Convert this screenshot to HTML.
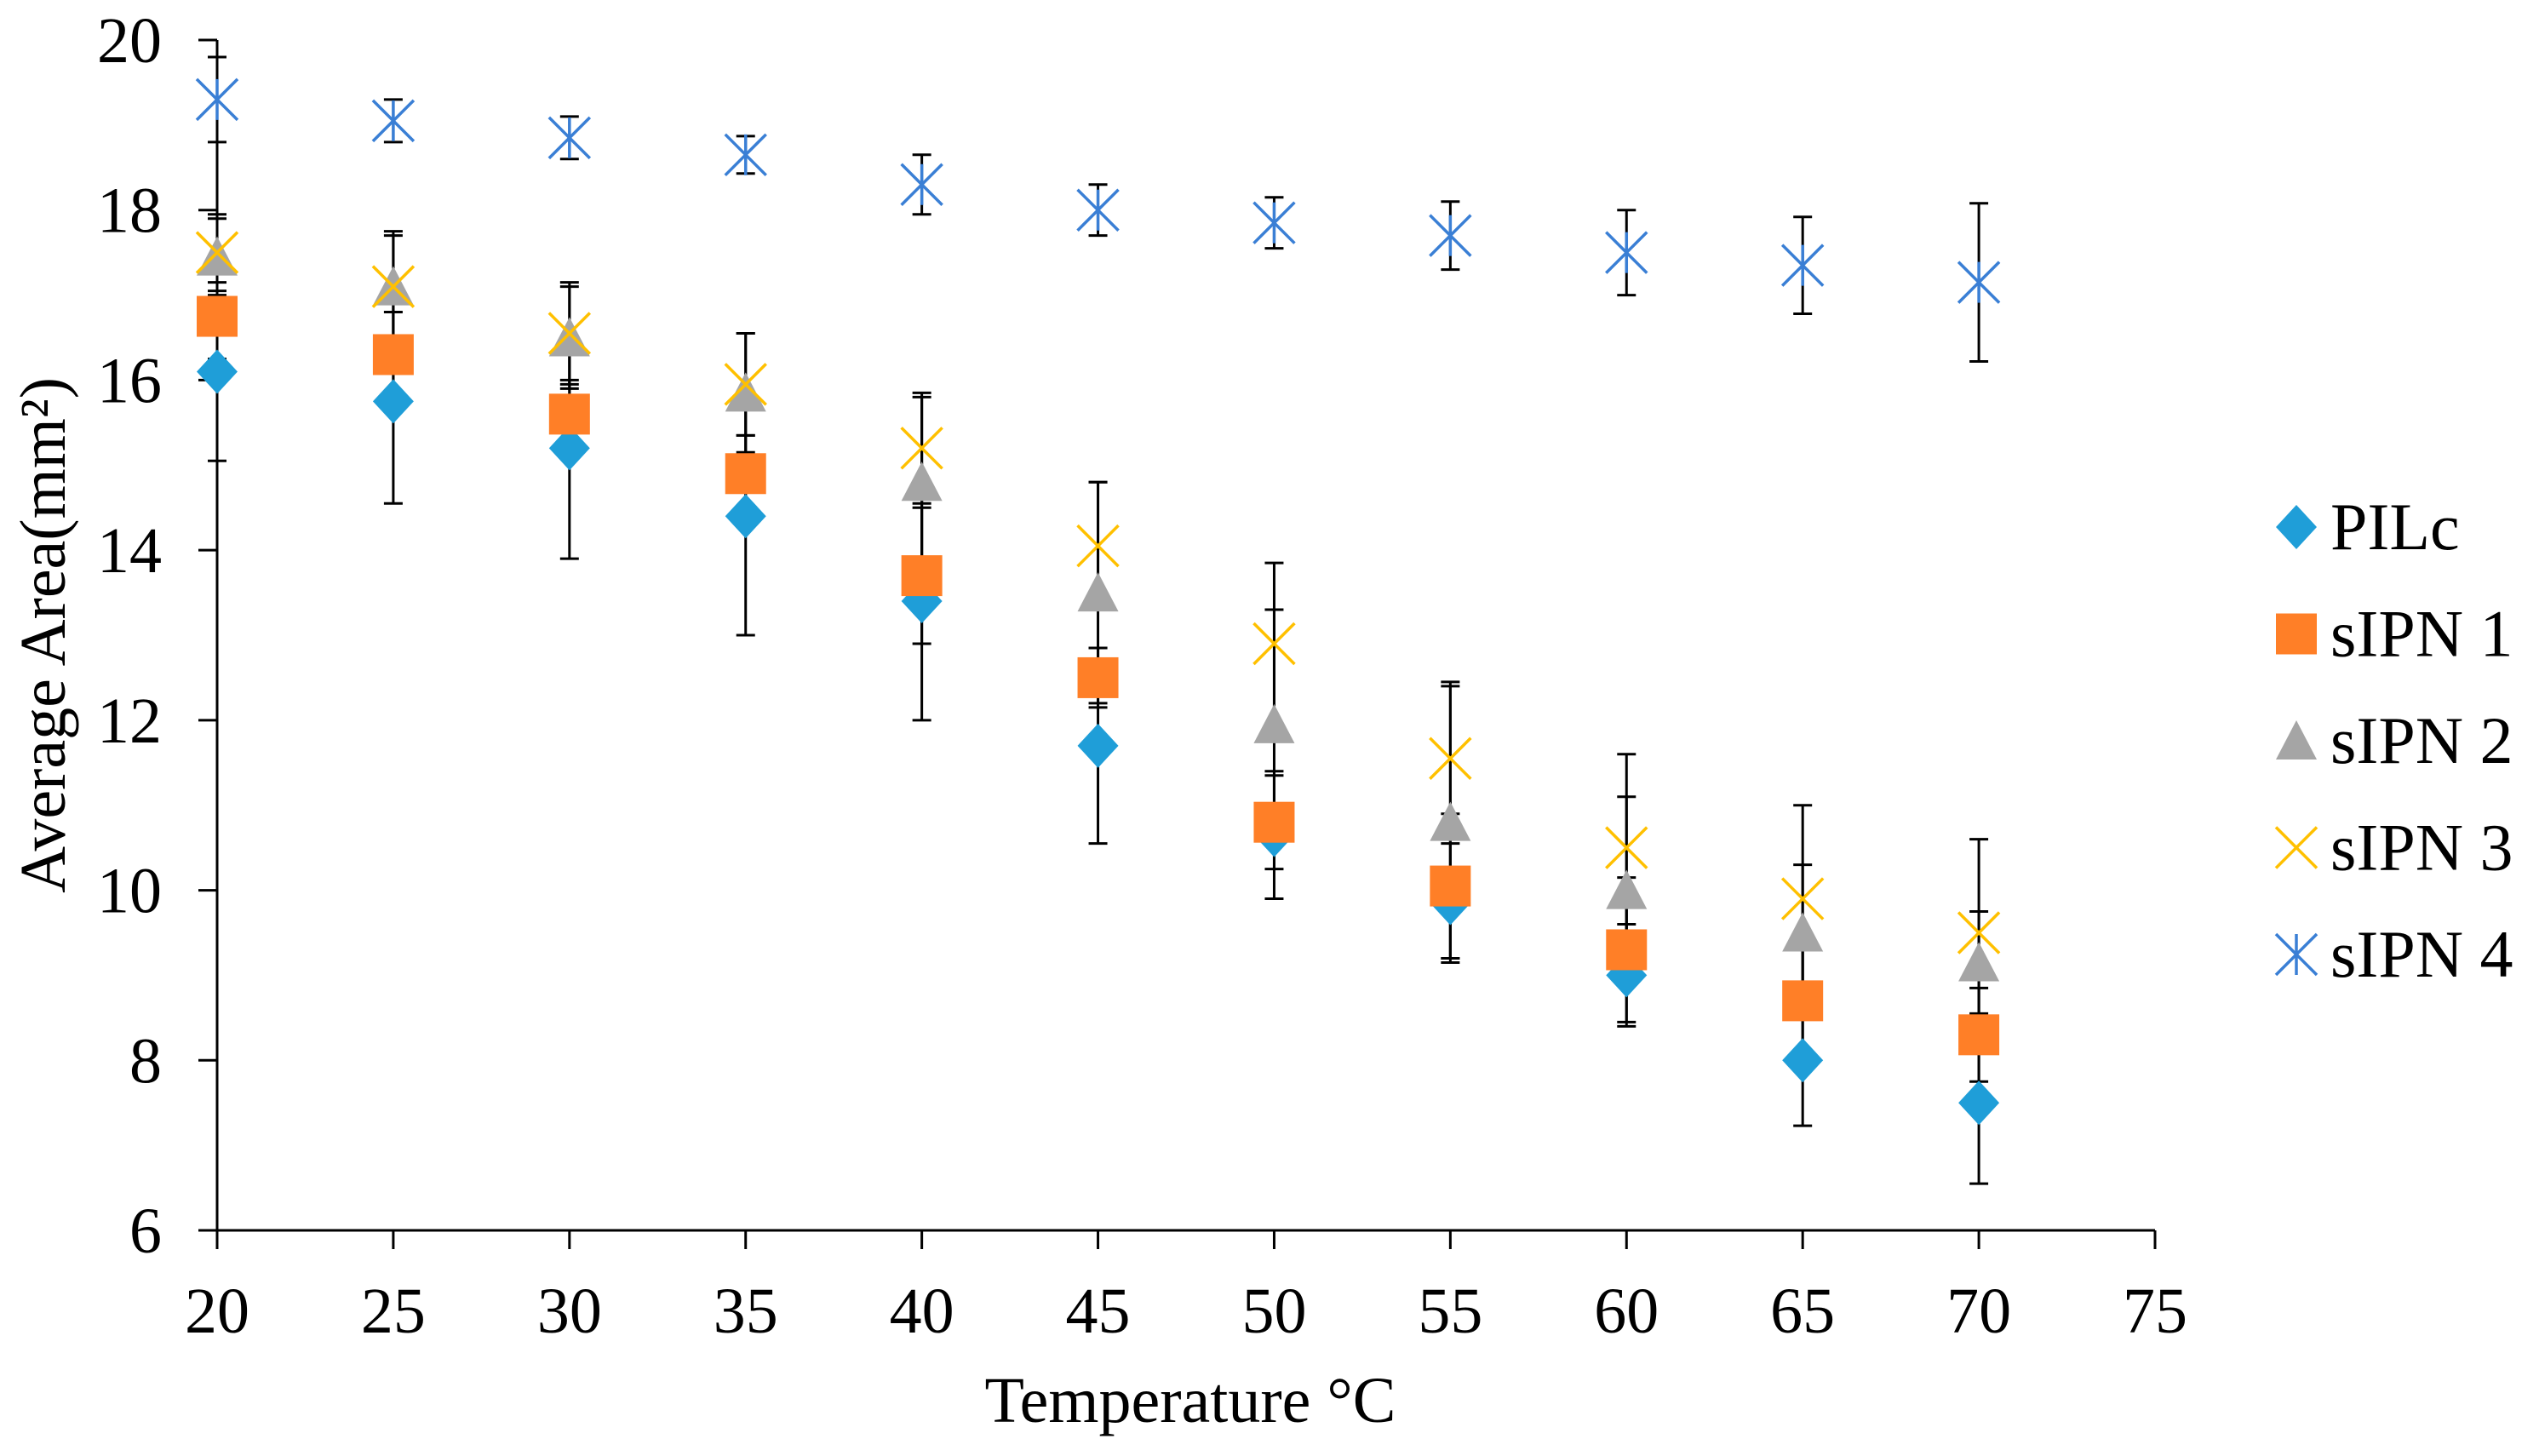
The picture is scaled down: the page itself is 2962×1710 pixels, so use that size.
<!DOCTYPE html>
<html><head><meta charset="utf-8"><style>
html,body{margin:0;padding:0;background:#fff;}
svg{display:block;font-family:"Liberation Serif",serif;}
</style></head><body>
<svg id="chart" width="2962" height="1710" viewBox="0 0 2962 1710" xmlns="http://www.w3.org/2000/svg">
<g id="axes"></g>
<g id="marks"></g>
<g id="legend"></g>
<text x="1398" y="1670" font-size="76" text-anchor="middle">Temperature °C</text>
<text x="0" y="0" font-size="76" text-anchor="middle" transform="translate(76,746) rotate(-90)">Average Area(mm²)</text>
</svg>
<script>
const temps = [20,25,30,35,40,45,50,55,60,65,70];
const xTicks = [20,25,30,35,40,45,50,55,60,65,70,75];
const yTicks = [6,8,10,12,14,16,18,20];
const seriesNames = ["PILc","sIPN 1","sIPN 2","sIPN 3","sIPN 4"];
const pilc = [16.1,15.75,15.2,14.4,13.4,11.7,10.65,9.85,9.0,8.0,7.5];
const pilcErr = [1.05,1.2,1.3,1.4,1.4,1.15,0.75,0.7,0.6,0.77,0.95];
const sipn1 = [16.75,16.3,15.6,14.9,13.7,12.5,10.8,10.05,9.3,8.7,8.3];
const sipn1Err = [0.5,0.5,0.4,0.45,0.8,0.35,0.55,0.85,0.85,0.6,0.55];
const sipn2 = [17.45,17.1,16.5,15.85,14.8,13.5,11.95,10.8,10.0,9.5,9.15];
const sipn2Err = [0.45,0.6,0.6,0.7,1.0,1.3,1.35,1.6,1.1,0.8,0.6];
const sipn3 = [17.5,17.1,16.55,15.95,15.2,14.05,12.9,11.55,10.5,9.9,9.5];
const sipn3Err = [0.45,0.65,0.6,0.6,0.65,0.75,0.95,0.9,1.1,1.1,1.1];
const sipn4 = [19.3,19.05,18.85,18.65,18.3,18.0,17.85,17.7,17.5,17.35,17.15];
const sipn4Err = [0.5,0.25,0.25,0.22,0.35,0.3,0.3,0.4,0.5,0.57,0.93];

const NS="http://www.w3.org/2000/svg";
const X0=255,X1=2531,Y0=1445,Y1=47;
function xs(v){return X0+(v-20)/(75-20)*(X1-X0);}
function ys(v){return Y0-(v-6)/(20-6)*(Y0-Y1);}
function mk(tag,attrs,parent){const e=document.createElementNS(NS,tag);for(const k in attrs)e.setAttribute(k,attrs[k]);parent.appendChild(e);return e;}
const axes=document.getElementById('axes'),marks=document.getElementById('marks'),legend=document.getElementById('legend');

let ax=mk('line',{x1:X0,y1:Y0,x2:X1,y2:Y0,stroke:'#000','stroke-width':3},axes);


let ay=mk('line',{x1:X0,y1:Y0,x2:X0,y2:Y1,stroke:'#000','stroke-width':3},axes);


xTicks.forEach(t=>{
  const x=xs(t);
  const l=mk('line',{x1:x,y1:Y0,x2:x,y2:Y0+22,stroke:'#000','stroke-width':3},axes);
  
  
  const tx=mk('text',{x:x,y:1565,'font-size':76,'text-anchor':'middle'},axes);
  tx.textContent=t;
  
  
});
yTicks.forEach(t=>{
  const y=ys(t);
  const l=mk('line',{x1:X0-22,y1:y,x2:X0,y2:y,stroke:'#000','stroke-width':3},axes);
  
  
  const tx=mk('text',{x:190,y:y+26,'font-size':76,'text-anchor':'end'},axes);
  tx.textContent=t;
  
  
});

const colors=['#1F9ED8','#FF7F27','#A5A5A5','#FFC000','#3A7FD5'];
const shapes=['diamond','square','triangle','x','star'];
function marker(g,shape,cx,cy,col){
  const s=24;
  if(shape==='diamond') mk('polygon',{points:`${cx},${cy-s-2} ${cx+s},${cy} ${cx},${cy+s+2} ${cx-s},${cy}`,fill:col},g);
  else if(shape==='square') mk('rect',{x:cx-s,y:cy-s,width:2*s,height:2*s,fill:col},g);
  else if(shape==='triangle') mk('polygon',{points:`${cx},${cy-s} ${cx+s},${cy+s-2} ${cx-s},${cy+s-2}`,fill:col},g);
  else {
    mk('line',{x1:cx-s,y1:cy-s,x2:cx+s,y2:cy+s,stroke:col,'stroke-width':3.5},g);
    mk('line',{x1:cx-s,y1:cy+s,x2:cx+s,y2:cy-s,stroke:col,'stroke-width':3.5},g);
    if(shape==='star') mk('line',{x1:cx,y1:cy-s,x2:cx,y2:cy+s,stroke:col,'stroke-width':3.5},g);
  }
}
const data=[pilc,sipn1,sipn2,sipn3,sipn4], errs=[pilcErr,sipn1Err,sipn2Err,sipn3Err,sipn4Err];
// error bars first
data.forEach((vals,si)=>{
  const g=mk('g',{},marks);
  
  
  vals.forEach((v,i)=>{
    const x=xs(temps[i]),yt=ys(v+errs[si][i]),yb=ys(v-errs[si][i]);
    mk('line',{x1:x,y1:yt,x2:x,y2:yb,stroke:'#000','stroke-width':3},g);
    mk('line',{x1:x-11,y1:yt,x2:x+11,y2:yt,stroke:'#000','stroke-width':3},g);
    mk('line',{x1:x-11,y1:yb,x2:x+11,y2:yb,stroke:'#000','stroke-width':3},g);
  });
});
data.forEach((vals,si)=>{
  const g=mk('g',{},marks);
  
  
  vals.forEach((v,i)=>{
    const p=mk('g',{},g);
    
    
    marker(p,shapes[si],xs(temps[i]),ys(v),colors[si]);
  });
});
seriesNames.forEach((n,si)=>{
  const cy=619+si*125.5;
  const g=mk('g',{},legend);
  
  
  marker(g,shapes[si],2697,cy,colors[si]);
  const t=mk('text',{x:2737,y:cy+26,'font-size':78},g);
  t.textContent=n;
});
</script>
</body></html>
